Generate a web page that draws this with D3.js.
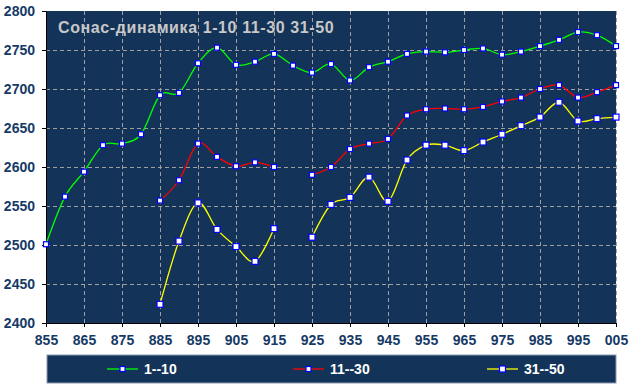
<!DOCTYPE html>
<html lang="ru">
<head>
<meta charset="UTF-8">
<title>Сонас-динамика</title>
<script src="https://d3js.org/d3.v7.min.js"></script>
<style>
  body { margin: 0; background: #fff; font-family: "Liberation Sans", Arial, sans-serif; }
  .tick text { font-weight: bold; fill: #163a66; font-size: 14px; }
</style>
</head>
<body>
<svg width="634" height="387"></svg>
<script>
// годы (1855..2005), шаг 5
const years = d3.range(1855, 2006, 5);
const s1_10 = [2501, 2562, 2594, 2628, 2630, 2642, 2692, 2695, 2733, 2753, 2731, 2735, 2745, 2730, 2721,
               2732, 2711, 2728, 2735, 2745, 2748, 2747, 2750, 2752, 2744, 2748, 2755, 2763, 2773, 2769, 2755];
const s11_30 = [null, null, null, null, null, null, 2557, 2583, 2630, 2613, 2601, 2606, 2600, null, 2590,
                2600, 2623, 2630, 2636, 2666, 2674, 2675, 2674, 2677, 2684, 2689, 2700, 2705, 2689, 2696, 2705];
const s31_50 = [null, null, null, null, null, null, 2424, 2505, 2554, 2520, 2498, 2479, 2521, null, 2510,
                2552, 2561, 2587, 2556, 2609, 2628, 2628, 2621, 2632, 2642, 2653, 2664, 2683, 2659, 2662, 2664];
const xTicks = d3.range(1855, 2006, 10);
const yTicks = [2400, 2450, 2500, 2550, 2600, 2650, 2700, 2750, 2800];
const seriesNames = ["1--10", "11--30", "31--50"];
const seriesColors = ["#00ff00", "#ff0000", "#ffff00"];
const title = "Сонас-динамика 1-10 11-30 31-50";

const svg = d3.select("svg");
const margin = { left: 46, top: 11, right: 18, bottom: 64 };
const width = 634 - margin.left - margin.right;
const height = 387 - margin.top - margin.bottom;

const x = d3.scaleLinear().domain([1855, 2005]).range([0, width]);
const y = d3.scaleLinear().domain([2400, 2800]).range([height, 0]);

const g = svg.append("g").attr("transform", `translate(${margin.left},${margin.top})`);

g.append("rect").attr("width", width).attr("height", height).attr("fill", "#143359");

// сетка
g.selectAll(".vgrid").data(xTicks.slice(1)).enter().append("line")
  .attr("x1", d => Math.round(x(d)) + 0.5).attr("x2", d => Math.round(x(d)) + 0.5)
  .attr("y1", 0).attr("y2", height)
  .attr("stroke", "#a0a0a0").attr("stroke-dasharray", "4,3");
g.selectAll(".hgrid").data(yTicks.slice(1, -1)).enter().append("line")
  .attr("y1", d => Math.round(y(d)) + 0.5).attr("y2", d => Math.round(y(d)) + 0.5)
  .attr("x1", 0).attr("x2", width)
  .attr("stroke", "#a0a0a0").attr("stroke-dasharray", "4,3");

// оси
const xAxis = g.append("g").attr("transform", `translate(0,${height})`)
  .call(d3.axisBottom(x).tickValues(xTicks).tickSize(4).tickSizeOuter(0)
    .tickFormat(d => String(d).slice(1)));
const yAxis = g.append("g")
  .call(d3.axisLeft(y).tickValues(yTicks).tickSize(4).tickSizeOuter(0).tickFormat(d3.format("d")));
[xAxis, yAxis].forEach(a => {
  a.select(".domain").attr("stroke", "#000");
  a.selectAll(".tick line").attr("stroke", "#000");
  a.selectAll("text").attr("font-family", "Liberation Sans, Arial, sans-serif");
});
xAxis.selectAll("text").attr("y", 12).attr("dy", "0.71em");
yAxis.selectAll("text").attr("x", -11);

// линии
const allSeries = [s1_10, s11_30, s31_50];
const line = d3.line()
  .defined(d => d.v != null)
  .x(d => x(d.year)).y(d => y(d.v))
  .curve(d3.curveCatmullRom.alpha(0));

allSeries.forEach((vals, i) => {
  const pts = years.map((yr, j) => ({ year: yr, v: vals[j] }));
  g.append("path").datum(pts)
    .attr("fill", "none").attr("stroke", seriesColors[i]).attr("stroke-width", 1.3)
    .attr("d", line);
  const sz = i === 2 ? 6 : 5;
  g.selectAll(".m" + i).data(pts.filter(d => d.v != null)).enter().append("rect")
    .attr("x", d => x(d.year) - sz / 2).attr("y", d => y(d.v) - sz / 2)
    .attr("width", sz).attr("height", sz)
    .attr("fill", "#fff").attr("stroke", "#0000ff").attr("stroke-width", 1.2);
});

// заголовок
g.append("text").attr("x", 12).attr("y", 22)
  .attr("fill", "#c8c8c8").attr("font-weight", "bold").attr("font-size", "16px")
  .attr("letter-spacing", "0.6px")
  .text(title);

// легенда
const leg = svg.append("g").attr("transform", "translate(47,355)");
leg.append("rect").attr("width", 569).attr("height", 28)
  .attr("fill", "#143359").attr("stroke", "#8a9ab0").attr("stroke-width", 1);
const legX = [60, 246, 440];
seriesNames.forEach((name, i) => {
  const e = leg.append("g").attr("transform", `translate(${legX[i]},14)`);
  e.append("line").attr("x1", 0).attr("x2", 31).attr("stroke", seriesColors[i]).attr("stroke-width", 1.3);
  const sz = i === 2 ? 6 : 5;
  e.append("rect").attr("x", 15.5 - sz / 2).attr("y", -sz / 2).attr("width", sz).attr("height", sz)
    .attr("fill", "#fff").attr("stroke", "#0000ff").attr("stroke-width", 1.2);
  e.append("text").attr("x", 37).attr("y", 5)
    .attr("fill", "#fff").attr("font-weight", "bold").attr("font-size", "14px")
    .text(name);
});
</script>
</body>
</html>
